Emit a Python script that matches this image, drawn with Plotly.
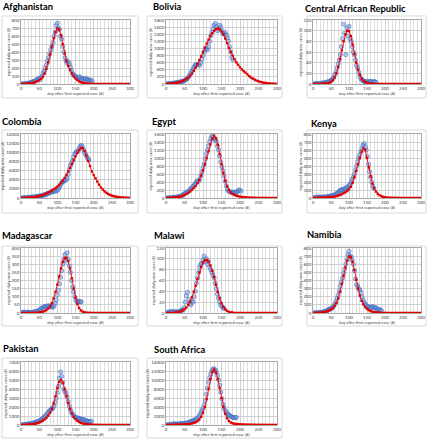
import plotly.graph_objects as go

# ---------------- data ----------------
COUNTRIES = ["Afghanistan", "Bolivia", "Central African Republic", "Colombia", "Egypt", "Kenya",
             "Madagascar", "Malawi", "Namibia", "Pakistan", "South Africa"]

Y_MAX = [800, 1800, 120, 14000, 1600, 800, 400, 120, 800, 7000, 14000]
Y_DTICK = [100, 200, 20, 2000, 200, 100, 50, 20, 100, 1000, 2000]

# model (red) values, every 5 days from day 0 to 300
model_afghanistan = [0,1,2,4,6,9,13,18,25,35,48,65,90,130,190,270,370,470,570,650,695,680,610,500,380,290,225,175,135,100,70,48,32,22,15,10,7,5,3,2,1] + [0]*20
model_bolivia = [0,5,10,15,20,28,38,50,65,85,110,140,180,230,290,370,460,560,670,780,900,1020,1140,1250,1350,1430,1500,1545,1560,1540,1480,1400,1280,1150,1010,900,800,700,610,540,470,410,360,320,270,220,180,150,120,95,75,58,45,35,27,20,15,11,8,6,4]
model_car = [0,0,0,0,0,0,1,1,1,2,4,7,12,20,32,47,63,80,93,100,99,90,74,56,40,27,17,10,6,4,2,1,1] + [0]*28
model_colombia = [0,20,40,60,90,120,160,200,260,330,410,520,650,800,980,1180,1400,1650,1920,2200,2500,2850,3300,3800,4400,5050,5800,6600,7450,8300,9100,9900,10500,10950,10900,10300,9300,8100,7000,5800,5000,4300,3600,2900,2300,1850,1450,1150,880,680,520,400,300,230,170,130,100,75,55,40,30]
model_egypt = [0,2,5,8,12,17,23,30,40,55,75,100,130,165,205,250,300,370,450,560,690,840,1000,1170,1340,1480,1560,1500,1330,1100,850,620,430,290,200,140,100,75,58,45,35,27,21,16,12,9,7,5,4,3,2,2,1,1,1,0,0,0,0,0,0]
model_kenya = [0,1,2,3,4,5,6,7,8,10,12,15,19,24,30,38,48,60,72,88,108,140,190,260,340,420,500,580,620,600,500,380,270,180,120,80,52,34,22,14,9,6,4,3,2,1,1,1,0] + [0]*12
model_madagascar = [0,0,0,0,0,0,0,1,1,2,3,5,8,12,18,27,40,60,90,130,175,225,275,315,338,340,320,275,215,150,95,55,30,16,8,4,2,1,1] + [0]*22
model_malawi = [0,0,0,0,0,1,1,2,3,5,7,10,15,21,29,39,50,63,75,85,93,97,98,95,88,78,66,52,39,27,18,11,7,4,2,1,1] + [0]*24
model_namibia = [0,1,2,3,5,8,12,17,24,33,45,62,88,125,180,260,360,460,560,645,695,690,630,530,410,300,215,150,105,72,50,35,24,16,11,7,5,3,2,1,1] + [0]*20
model_pakistan = [0,5,15,30,50,70,90,120,160,210,280,370,480,620,800,1030,1350,1800,2400,3200,4100,4800,5000,4700,4000,3200,2450,1800,1300,920,650,460,330,240,170,125,90,65,48,35,25,18,13,10,7,5,4,3,2,2,1,1,1,0,0,0,0,0,0,0,0]
model_south_africa = [0,10,20,30,40,50,60,75,90,110,135,170,210,270,350,460,620,850,1200,1800,2700,4000,5800,8000,10200,11800,12300,11700,10200,8200,6000,4000,2500,1500,900,560,380,280,220,180,150,125,105,90,78,68,60,52,46,40,35,30,26,22,19,16,13,11,9,8,7]

# reported (blue) values, every 3 days starting at day 1
reported_afghanistan = [0,0,1,2,3,5,8,10,15,20,25,30,35,40,50,60,70,55,80,100,140,160,200,240,290,330,380,430,470,520,600,650,730,760,700,680,600,560,470,400,330,290,260,280,250,210,170,130,110,100,90,80,70,90,80,60,70,60,55,70,50,60,45,40,50,30]
reported_bolivia = [0,2,5,8,12,15,20,25,30,35,40,45,55,60,70,80,90,110,130,160,200,250,300,360,420,480,530,550,540,560,520,600,700,800,900,980,1000,960,1050,1200,1350,1450,1550,1650,1700,1600,1500,1550,1650,1600,1500,1420,1400,1450,1380,1300,1200,1050,900,750,680]
reported_car = [0,0,0,1,0,1,0,1,2,1,2,3,2,4,3,5,6,8,10,13,18,22,30,38,45,55,70,85,112,95,55,105,90,108,85,80,70,60,55,45,35,30,22,15,10,8,6,5,4,4,5,3,4,5,4,3,5,4,3]
reported_colombia = [0,10,20,40,60,80,100,120,140,160,180,200,220,260,300,340,380,420,460,520,600,680,760,850,950,1050,1150,1250,1350,1400,1450,1500,1550,1700,2000,2400,2900,3300,3600,3700,3800,4000,4300,5200,6200,7000,7600,8200,9000,9600,10000,10100,10300,10800,11300,11500,11200,10600,10000,9500,9000,8600,8300]
reported_egypt = [0,1,2,3,5,8,10,12,15,20,25,30,35,45,60,80,100,120,140,150,170,200,230,260,290,320,360,400,430,420,470,560,650,750,850,980,1100,1200,1300,1400,1480,1550,1520,1480,1450,1420,1300,1200,1050,900,780,680,550,420,300,220,170,160,150,140,130,150,140,130,160,190,200,170]
reported_kenya = [0,2,5,8,10,12,10,8,10,12,10,12,15,18,15,20,25,30,28,35,40,50,60,70,85,95,100,105,110,115,120,130,140,155,170,200,230,260,300,350,400,450,500,540,580,620,660,680,640,600,520,420,330,260,200,150,120]
reported_madagascar = [0,2,5,4,3,5,4,3,2,3,4,5,6,8,10,12,15,20,25,30,35,38,40,42,40,45,40,42,38,35,45,60,80,110,140,180,220,260,300,330,360,320,370,330,290,250,200,160,130,100,80,70,72,68,70,68]
reported_malawi = [0,1,2,1,2,3,2,1,3,2,1,2,3,4,5,6,10,20,32,38,25,18,15,22,20,30,40,55,65,75,85,90,92,98,105,95,100,90,95,85,80,75,70,65,55,45,35,28,20,15,12,10,8]
reported_namibia = [0,0,1,2,3,4,6,8,10,12,15,20,25,30,40,50,55,60,70,90,110,140,180,220,270,330,380,430,490,540,600,660,720,760,700,690,650,600,520,420,350,330,300,280,250,200,160,130,110,90,80,70,75,60,70,80,70,60,65,50,40,45,35,30]
reported_pakistan = [0,5,20,40,60,80,100,120,140,160,180,220,260,300,340,380,420,480,560,650,760,880,1000,1150,1300,1450,1600,1700,1800,1900,2100,2500,3000,3600,4300,5200,5900,5400,4700,4000,3700,3500,3100,2600,2100,1700,1400,1200,1000,900,850,800,750,700,680,650,620,600,550,500,450,400,350,380,420]
reported_south_africa = [0,20,50,80,100,150,200,250,230,200,180,200,250,280,300,320,350,380,420,480,550,650,750,850,950,1050,1150,1300,1500,1800,2200,2700,3200,3700,4500,5500,6800,8200,9500,10500,11300,12000,12400,12500,12200,11800,11000,10000,8800,7300,5800,4600,3800,3200,2800,2500,2300,2100,1900,1800,1700,1650,1600,1700]

MODELS = [model_afghanistan, model_bolivia, model_car, model_colombia, model_egypt, model_kenya,
          model_madagascar, model_malawi, model_namibia, model_pakistan, model_south_africa]
REPORTED = [reported_afghanistan, reported_bolivia, reported_car, reported_colombia, reported_egypt,
            reported_kenya, reported_madagascar, reported_malawi, reported_namibia, reported_pakistan,
            reported_south_africa]

# ---------------- layout geometry (pixels) ----------------
W, H = 432, 440
COL_PLOT = [(21, 130), (166, 277), (313, 421)]
ROW_PLOT = [(20, 84), (134, 198), (248, 313), (362, 425)]
COL_BOX = [(2, 138), (147, 282), (307, 426)]
ROW_BOX = [(16, 98), (130, 213), (246, 326), (358, 438)]
TITLE_POS = [(0, 7), (151, 7), (303, 8), (0, 121), (150, 121), (309, 124),
             (0, 235), (152, 235), (305, 234), (1, 348), (152, 349)]

def px_x(x):
    return x / W

def px_y(y):
    return 1 - y / H

fig = go.Figure()
layout = dict(width=W, height=H, margin=dict(l=0, r=0, t=0, b=0, autoexpand=False),
              paper_bgcolor="white", plot_bgcolor="white", showlegend=False,
              font=dict(family="Lato, Liberation Sans, sans-serif", color="#404040"))
shapes = []
annotations = []

for i, name in enumerate(COUNTRIES):
    r, c = divmod(i, 3)
    ax = "" if i == 0 else str(i + 1)
    x0, x1 = COL_PLOT[c]
    y0, y1 = ROW_PLOT[r]
    layout["xaxis" + ax] = dict(
        domain=[px_x(x0), px_x(x1)], range=[0, 300], dtick=50, tick0=0,
        anchor="y" + ax, showgrid=True, gridcolor="#D0D0D0", gridwidth=0.6,
        minor=dict(dtick=10, showgrid=True, gridcolor="#DDDDDD", gridwidth=0.5),
        showline=True, linecolor="#A6A6A6", linewidth=0.7, mirror=True, ticks="",
        tickfont=dict(size=4.5, color="#404040"), zeroline=False, automargin=False,
        tickformat="d",
        title=dict(text="day after first reported case (#)", font=dict(size=4.2, color="#404040"), standoff=1),
        fixedrange=True)
    layout["yaxis" + ax] = dict(
        domain=[px_y(y1), px_y(y0)], range=[0, Y_MAX[i]], dtick=Y_DTICK[i], tick0=0,
        anchor="x" + ax, showgrid=True, gridcolor="#D0D0D0", gridwidth=0.6,
        showline=True, linecolor="#A6A6A6", linewidth=0.7, mirror=True, ticks="",
        tickfont=dict(size=4.5, color="#404040"), zeroline=False, automargin=False,
        tickformat="d",
        title=dict(text="reported daily new cases (#)", font=dict(size=4.0, color="#404040"), standoff=1),
        fixedrange=True)

    rep = REPORTED[i]
    rep_days = list(range(1, 1 + 3 * len(rep), 3))
    fig.add_trace(go.Scatter(
        x=rep_days, y=rep, mode="markers", xaxis="x" + ax, yaxis="y" + ax,
        hoverinfo="skip",
        marker=dict(symbol="circle", size=4.2, color="rgba(110,150,220,0.45)",
                    line=dict(color="rgba(55,100,190,0.9)", width=0.6))))
    mod = MODELS[i]
    mod_days = list(range(0, 5 * len(mod), 5))
    fig.add_trace(go.Scatter(
        x=mod_days, y=mod, mode="lines+markers", xaxis="x" + ax, yaxis="y" + ax,
        hoverinfo="skip",
        line=dict(color="#FF0000", width=0.9),
        marker=dict(symbol="square", size=2.4, color="#E00000")))

    bx0, bx1 = COL_BOX[c]
    by0, by1 = ROW_BOX[r]
    shapes.append(dict(type="rect", xref="paper", yref="paper",
                       x0=px_x(bx0), x1=px_x(bx1), y0=px_y(by1), y1=px_y(by0),
                       line=dict(color="#D9D9D9", width=1), layer="below"))
    tx, ty = TITLE_POS[i]
    annotations.append(dict(text="<b>" + name + "</b>", xref="paper", yref="paper",
                            x=px_x(tx), y=px_y(ty), xanchor="left", yanchor="middle",
                            showarrow=False, font=dict(size=9.4, color="#000000",
                                                       family="Lato, Open Sans, sans-serif")))

layout["shapes"] = shapes
layout["annotations"] = annotations
fig.update_layout(**layout)
fig.write_html("out.html", config={"displayModeBar": False},
               post_script="document.body.style.margin='0px';document.body.style.overflow='hidden';")
